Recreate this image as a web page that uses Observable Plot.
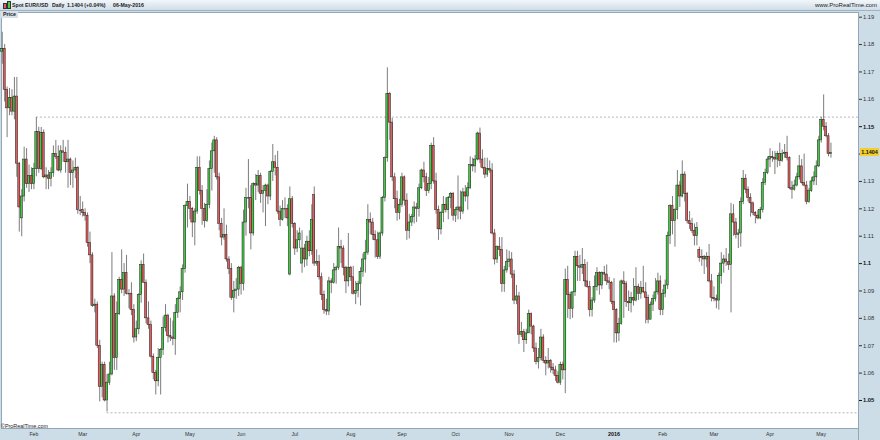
<!DOCTYPE html>
<html><head><meta charset="utf-8">
<script src="https://cdn.jsdelivr.net/npm/d3@7"></script>
<script src="https://cdn.jsdelivr.net/npm/@observablehq/plot@0.6"></script>
<style>
html,body{margin:0;padding:0;background:#cddde8;}
body{width:880px;height:440px;overflow:hidden;position:relative;font-family:"Liberation Sans",Arial,sans-serif;}
#hdr{position:absolute;left:0;top:0;width:880px;height:10px;background:linear-gradient(#f3f7fa,#cfdde8);border-bottom:1px solid #9fb3c2;font-size:5.2px;font-weight:bold;color:#1a1a1a;line-height:10px;}
#hdr .t{position:absolute;top:0;white-space:nowrap;}
#hdr .r{position:absolute;right:3px;top:0;font-weight:normal;font-size:6px;}
#icon{position:absolute;left:3px;top:2px;width:8px;height:7px;}
#icon span{position:absolute;bottom:0;width:2px;border:0.5px solid #333;}
#chart{position:absolute;left:0;top:11px;}
#price{position:absolute;left:1px;top:11px;padding:0 2px;height:7px;line-height:7px;font-size:5.3px;font-weight:bold;background:#d6e1ea;color:#222;}
#copy{position:absolute;left:1px;top:423px;font-size:5.4px;color:#222;}
#last{position:absolute;left:860px;width:19px;height:8px;line-height:8px;background:#f2cf2e;font-size:5.4px;font-weight:bold;color:#111;text-align:center;}
#sep{position:absolute;left:858px;top:428px;width:1px;height:12px;background:#93a7b6;}
</style></head>
<body>
<div id="hdr"><div id="icon"><span style="left:0;height:4px;background:#e35d5d"></span><span style="left:4px;height:6px;background:#44cc44"></span></div><span class="t" style="left:12px">Spot EUR/USD</span><span class="t" style="left:52px">Daily</span><span class="t" style="left:67px">1.1404 (+0.04%)</span><span class="t" style="left:113px">06-May-2016</span><span class="r">www.ProRealTime.com</span></div>
<div id="chart"></div>
<div id="price">Price</div>
<div id="copy">©ProRealTime.com</div>
<div id="sep"></div>
<div id="last">1.1404</div>
<script>
// ---- categories: trading days per month ----
const months = ["2015-01","2015-02","2015-03","2015-04","2015-05","2015-06","2015-07","2015-08","2015-09","2015-10","2015-11","2015-12","2016-01","2016-02","2016-03","2016-04","2016-05"];
const monthDays = [
 [14,15,16,19,20,21,22,23,26,27,28,29,30],
 [2,3,4,5,6,9,10,11,12,13,16,17,18,19,20,23,24,25,26,27],
 [2,3,4,5,6,9,10,11,12,13,16,17,18,19,20,23,24,25,26,27,30,31],
 [1,2,3,6,7,8,9,10,13,14,15,16,17,20,21,22,23,24,27,28,29,30],
 [1,4,5,6,7,8,11,12,13,14,15,18,19,20,21,22,25,26,27,28,29],
 [1,2,3,4,5,8,9,10,11,12,15,16,17,18,19,22,23,24,25,26,29,30],
 [1,2,3,6,7,8,9,10,13,14,15,16,17,20,21,22,23,24,27,28,29,30,31],
 [3,4,5,6,7,10,11,12,13,14,17,18,19,20,21,24,25,26,27,28,31],
 [1,2,3,4,7,8,9,10,11,14,15,16,17,18,21,22,23,24,25,28,29,30],
 [1,2,5,6,7,8,9,12,13,14,15,16,19,20,21,22,23,26,27,28,29,30],
 [2,3,4,5,6,9,10,11,12,13,16,17,18,19,20,23,24,25,26,27,30],
 [1,2,3,4,7,8,9,10,11,14,15,16,17,18,21,22,23,24,28,29,30,31],
 [4,5,6,7,8,11,12,13,14,15,18,19,20,21,22,25,26,27,28,29],
 [1,2,3,4,5,8,9,10,11,12,15,16,17,18,19,22,23,24,25,26,29],
 [1,2,3,4,7,8,9,10,11,14,15,16,17,18,21,22,23,24,25,28,29,30,31],
 [1,4,5,6,7,8,11,12,13,14,15,18,19,20,21,22,25,26,27,28,29],
 [2,3,4,5,6]
];
// ---- series values: [open, high, low, close] per day ----
const jan2015 = [[1.1774,1.1845,1.1728,1.1784],[1.1784,1.1800,1.1590,1.1635],[1.1635,1.1645,1.1460,1.1567],[1.1567,1.1640,1.1540,1.1605],[1.1605,1.1635,1.1540,1.1555],[1.1555,1.1680,1.1525,1.1610],[1.1610,1.1680,1.1315,1.1365],[1.1365,1.1370,1.1115,1.1205],[1.1165,1.1270,1.1098,1.1245],[1.1245,1.1425,1.1225,1.1380],[1.1380,1.1420,1.1275,1.1290],[1.1290,1.1360,1.1260,1.1320],[1.1320,1.1350,1.1270,1.1290]];
const feb2015 = [[1.1290,1.1366,1.1270,1.1345],[1.1345,1.1534,1.1317,1.1480],[1.1480,1.1498,1.1330,1.1345],[1.1345,1.1497,1.1340,1.1478],[1.1478,1.1488,1.1310,1.1315],[1.1315,1.1350,1.1270,1.1322],[1.1322,1.1340,1.1270,1.1310],[1.1310,1.1350,1.1280,1.1330],[1.1330,1.1430,1.1315,1.1400],[1.1400,1.1450,1.1380,1.1390],[1.1390,1.1430,1.1335,1.1340],[1.1340,1.1430,1.1330,1.1410],[1.1410,1.1450,1.1370,1.1405],[1.1405,1.1425,1.1330,1.1370],[1.1370,1.1450,1.1275,1.1380],[1.1380,1.1385,1.1285,1.1330],[1.1330,1.1375,1.1275,1.1340],[1.1340,1.1385,1.1310,1.1350],[1.1350,1.1355,1.1180,1.1195],[1.1195,1.1245,1.1175,1.1195]];
const mar2015 = [[1.1195,1.1225,1.1170,1.1185],[1.1185,1.1200,1.1155,1.1175],[1.1175,1.1185,1.1060,1.1075],[1.1075,1.1115,1.1000,1.1030],[1.1030,1.1040,1.0840,1.0845],[1.0845,1.0870,1.0820,1.0850],[1.0850,1.0860,1.0690,1.0700],[1.0700,1.0720,1.0495,1.0550],[1.0550,1.0640,1.0510,1.0630],[1.0630,1.0640,1.0495,1.0500],[1.0500,1.0595,1.0458,1.0565],[1.0565,1.0640,1.0555,1.0595],[1.0595,1.1040,1.0590,1.0880],[1.0880,1.0890,1.0610,1.0655],[1.0655,1.0860,1.0610,1.0815],[1.0815,1.0950,1.0810,1.0940],[1.0940,1.1050,1.0890,1.0905],[1.0905,1.1000,1.0880,1.0965],[1.0965,1.1030,1.0885,1.0890],[1.0890,1.0905,1.0835,1.0890],[1.0890,1.0930,1.0810,1.0830],[1.0830,1.0850,1.0710,1.0730]];
const apr2015 = [[1.0730,1.0790,1.0715,1.0760],[1.0760,1.0890,1.0740,1.0885],[1.0885,1.1010,1.0855,1.0995],[1.0995,1.1035,1.0935,1.0930],[1.0930,1.0940,1.0780,1.0800],[1.0800,1.0860,1.0760,1.0775],[1.0775,1.0790,1.0655,1.0660],[1.0660,1.0670,1.0575,1.0600],[1.0600,1.0610,1.0520,1.0570],[1.0570,1.0690,1.0550,1.0655],[1.0655,1.0690,1.0520,1.0685],[1.0685,1.0805,1.0665,1.0765],[1.0765,1.0850,1.0750,1.0810],[1.0810,1.0815,1.0710,1.0735],[1.0735,1.0800,1.0715,1.0730],[1.0730,1.0790,1.0700,1.0725],[1.0725,1.0850,1.0665,1.0820],[1.0820,1.0875,1.0800,1.0870],[1.0870,1.0915,1.0820,1.0895],[1.0895,1.0995,1.0865,1.0980],[1.0980,1.1215,1.0965,1.1210],[1.1210,1.1290,1.1130,1.1225]];
const may2015 = [[1.1225,1.1245,1.1160,1.1200],[1.1200,1.1205,1.1095,1.1150],[1.1150,1.1200,1.1065,1.1190],[1.1190,1.1390,1.1180,1.1350],[1.1350,1.1390,1.1250,1.1265],[1.1265,1.1285,1.1140,1.1200],[1.1200,1.1220,1.1130,1.1155],[1.1155,1.1270,1.1150,1.1215],[1.1215,1.1375,1.1200,1.1345],[1.1345,1.1440,1.1265,1.1410],[1.1410,1.1465,1.1330,1.1450],[1.1450,1.1460,1.1305,1.1315],[1.1315,1.1330,1.1120,1.1145],[1.1145,1.1165,1.1065,1.1095],[1.1095,1.1200,1.1085,1.1105],[1.1105,1.1140,1.1005,1.1015],[1.1015,1.1025,1.0960,1.0980],[1.0980,1.1000,1.0865,1.0875],[1.0875,1.0935,1.0820,1.0900],[1.0900,1.0945,1.0870,1.0905],[1.0905,1.0990,1.0880,1.0985]];
const jun2015 = [[1.0985,1.0990,1.0885,1.0925],[1.0925,1.1195,1.0900,1.1150],[1.1150,1.1275,1.1100,1.1240],[1.1240,1.1380,1.1200,1.1240],[1.1240,1.1285,1.1050,1.1110],[1.1110,1.1295,1.1100,1.1290],[1.1290,1.1325,1.1230,1.1285],[1.1285,1.1340,1.1260,1.1320],[1.1320,1.1330,1.1220,1.1255],[1.1255,1.1285,1.1185,1.1265],[1.1265,1.1290,1.1135,1.1285],[1.1285,1.1290,1.1215,1.1245],[1.1245,1.1340,1.1230,1.1335],[1.1335,1.1435,1.1300,1.1370],[1.1370,1.1395,1.1320,1.1350],[1.1350,1.1410,1.1180,1.1190],[1.1190,1.1210,1.1135,1.1160],[1.1160,1.1230,1.1155,1.1200],[1.1200,1.1240,1.1165,1.1200],[1.1200,1.1215,1.1135,1.1165],[1.0960,1.1280,1.0955,1.1235],[1.1235,1.1245,1.1130,1.1145]];
const jul2015 = [[1.1145,1.1150,1.1030,1.1055],[1.1055,1.1120,1.1040,1.1085],[1.1085,1.1130,1.1055,1.1110],[1.1000,1.1120,1.0965,1.1055],[1.1055,1.1070,1.0985,1.1015],[1.1015,1.1100,1.0990,1.1080],[1.1080,1.1120,1.1025,1.1045],[1.1045,1.1215,1.1030,1.1160],[1.1250,1.1280,1.0990,1.1000],[1.1000,1.1050,1.0990,1.1005],[1.1005,1.1030,1.0940,1.0950],[1.0950,1.0965,1.0865,1.0885],[1.0885,1.0900,1.0815,1.0830],[1.0830,1.0870,1.0810,1.0825],[1.0825,1.0950,1.0810,1.0935],[1.0935,1.0945,1.0890,1.0930],[1.0930,1.1000,1.0925,1.0975],[1.0975,1.0990,1.0925,1.0985],[1.0985,1.1130,1.0975,1.1060],[1.1060,1.1085,1.1000,1.1055],[1.1055,1.1065,1.0955,1.0985],[1.0985,1.0990,1.0890,1.0935],[1.0935,1.1110,1.0915,1.0985]];
const aug2015 = [[1.0985,1.0990,1.0935,1.0950],[1.0950,1.0990,1.0885,1.0890],[1.0890,1.0935,1.0850,1.0900],[1.0900,1.0935,1.0875,1.0925],[1.0925,1.0985,1.0845,1.0970],[1.0970,1.1035,1.0950,1.1015],[1.1015,1.1085,1.0965,1.1040],[1.1040,1.1215,1.1030,1.1160],[1.1160,1.1185,1.1105,1.1150],[1.1150,1.1165,1.1085,1.1105],[1.1105,1.1120,1.1020,1.1085],[1.1085,1.1115,1.1015,1.1025],[1.1025,1.1115,1.1015,1.1110],[1.1110,1.1245,1.1100,1.1240],[1.1240,1.1390,1.1225,1.1385],[1.1385,1.1715,1.1370,1.1620],[1.1620,1.1625,1.1450,1.1515],[1.1515,1.1530,1.1300,1.1315],[1.1315,1.1330,1.1200,1.1235],[1.1235,1.1265,1.1155,1.1185],[1.1185,1.1235,1.1160,1.1215]];
const sep2015 = [[1.1215,1.1330,1.1205,1.1315],[1.1315,1.1320,1.1210,1.1230],[1.1230,1.1255,1.1085,1.1120],[1.1120,1.1180,1.1090,1.1150],[1.1150,1.1180,1.1135,1.1170],[1.1170,1.1225,1.1145,1.1205],[1.1205,1.1220,1.1150,1.1200],[1.1200,1.1290,1.1170,1.1275],[1.1275,1.1345,1.1270,1.1340],[1.1340,1.1370,1.1295,1.1315],[1.1315,1.1330,1.1245,1.1265],[1.1265,1.1315,1.1255,1.1290],[1.1290,1.1440,1.1270,1.1430],[1.1430,1.1460,1.1290,1.1300],[1.1300,1.1330,1.1180,1.1195],[1.1195,1.1210,1.1085,1.1125],[1.1125,1.1190,1.1105,1.1185],[1.1185,1.1245,1.1150,1.1215],[1.1215,1.1240,1.1185,1.1195],[1.1195,1.1245,1.1160,1.1240],[1.1240,1.1260,1.1200,1.1255],[1.1255,1.1260,1.1155,1.1175]];
const oct2015 = [[1.1175,1.1205,1.1150,1.1195],[1.1195,1.1320,1.1160,1.1205],[1.1205,1.1265,1.1160,1.1190],[1.1190,1.1275,1.1180,1.1260],[1.1260,1.1285,1.1225,1.1245],[1.1245,1.1295,1.1195,1.1275],[1.1275,1.1390,1.1270,1.1360],[1.1360,1.1385,1.1335,1.1355],[1.1355,1.1395,1.1330,1.1380],[1.1380,1.1480,1.1375,1.1475],[1.1475,1.1495,1.1365,1.1380],[1.1380,1.1415,1.1345,1.1350],[1.1350,1.1385,1.1310,1.1325],[1.1325,1.1385,1.1315,1.1345],[1.1345,1.1375,1.1330,1.1340],[1.1340,1.1365,1.1105,1.1110],[1.1110,1.1125,1.0995,1.1015],[1.1015,1.1065,1.1000,1.1060],[1.1060,1.1095,1.1025,1.1050],[1.1050,1.1095,1.0895,1.0925],[1.0925,1.0990,1.0895,1.0975],[1.0975,1.1050,1.0965,1.1005]];
const nov2015 = [[1.1005,1.1045,1.0985,1.1015],[1.1015,1.1040,1.0945,1.0960],[1.0960,1.0975,1.0850,1.0865],[1.0865,1.0920,1.0850,1.0880],[1.0880,1.0895,1.0705,1.0740],[1.0740,1.0785,1.0730,1.0750],[1.0750,1.0760,1.0675,1.0720],[1.0720,1.0760,1.0705,1.0745],[1.0745,1.0830,1.0745,1.0815],[1.0815,1.0820,1.0740,1.0770],[1.0770,1.0775,1.0675,1.0690],[1.0690,1.0710,1.0630,1.0640],[1.0640,1.0690,1.0615,1.0655],[1.0655,1.0760,1.0645,1.0730],[1.0730,1.0740,1.0635,1.0645],[1.0645,1.0660,1.0590,1.0635],[1.0635,1.0690,1.0615,1.0645],[1.0645,1.0650,1.0600,1.0620],[1.0620,1.0635,1.0595,1.0610],[1.0610,1.0625,1.0570,1.0590],[1.0590,1.0605,1.0560,1.0565]];
const dec2015 = [[1.0565,1.0640,1.0555,1.0630],[1.0630,1.0640,1.0575,1.0610],[1.0610,1.0980,1.0525,1.0940],[1.0940,1.0990,1.0800,1.0885],[1.0885,1.0895,1.0795,1.0835],[1.0835,1.0895,1.0800,1.0895],[1.0895,1.1045,1.0880,1.1025],[1.1025,1.1045,1.0935,1.0990],[1.0990,1.1030,1.0935,1.0985],[1.0985,1.1055,1.0960,1.0995],[1.0995,1.1015,1.0915,1.0935],[1.0935,1.1005,1.0910,1.0915],[1.0915,1.0935,1.0805,1.0830],[1.0830,1.0875,1.0805,1.0865],[1.0865,1.0955,1.0855,1.0915],[1.0915,1.0985,1.0900,1.0965],[1.0965,1.0970,1.0885,1.0920],[1.0920,1.0970,1.0905,1.0965],[1.0965,1.0990,1.0935,1.0960],[1.0960,1.0995,1.0920,1.0935],[1.0935,1.0950,1.0905,1.0930],[1.0930,1.0935,1.0850,1.0860]];
const jan2016 = [[1.0860,1.0945,1.0710,1.0830],[1.0830,1.0835,1.0710,1.0745],[1.0745,1.0800,1.0715,1.0780],[1.0780,1.0940,1.0775,1.0935],[1.0935,1.0970,1.0800,1.0925],[1.0925,1.0935,1.0840,1.0860],[1.0860,1.0900,1.0825,1.0855],[1.0855,1.0895,1.0820,1.0875],[1.0875,1.0945,1.0845,1.0865],[1.0865,1.0985,1.0860,1.0915],[1.0915,1.0925,1.0865,1.0890],[1.0890,1.0935,1.0870,1.0910],[1.0910,1.0990,1.0890,1.0895],[1.0895,1.0930,1.0780,1.0875],[1.0875,1.0885,1.0780,1.0795],[1.0795,1.0860,1.0795,1.0850],[1.0850,1.0885,1.0825,1.0870],[1.0870,1.0945,1.0860,1.0895],[1.0895,1.0965,1.0885,1.0935],[1.0935,1.0955,1.0810,1.0830]];
const feb2016 = [[1.0830,1.0905,1.0810,1.0890],[1.0890,1.0940,1.0875,1.0920],[1.0920,1.1115,1.0905,1.1100],[1.1100,1.1215,1.1070,1.1210],[1.1210,1.1245,1.1105,1.1155],[1.1155,1.1200,1.1060,1.1195],[1.1195,1.1340,1.1160,1.1285],[1.1285,1.1300,1.1205,1.1245],[1.1245,1.1375,1.1240,1.1325],[1.1325,1.1335,1.1225,1.1255],[1.1255,1.1260,1.1145,1.1155],[1.1155,1.1190,1.1125,1.1145],[1.1145,1.1165,1.1110,1.1120],[1.1120,1.1145,1.1065,1.1100],[1.1100,1.1150,1.1065,1.1130],[1.1050,1.1060,1.1005,1.1020],[1.1020,1.1050,1.0990,1.1025],[1.1025,1.1030,1.0960,1.1015],[1.1015,1.1040,1.0985,1.1025],[1.1025,1.1070,1.0930,1.0935],[1.0935,1.0960,1.0860,1.0875]];
const mar2016 = [[1.0875,1.0915,1.0860,1.0870],[1.0870,1.0885,1.0835,1.0865],[1.0865,1.0965,1.0830,1.0955],[1.0955,1.1040,1.0925,1.1000],[1.1000,1.1030,1.0965,1.1015],[1.1015,1.1055,1.0990,1.1005],[1.1005,1.1035,1.0975,1.0995],[1.0995,1.1220,1.0820,1.1180],[1.1180,1.1215,1.1100,1.1150],[1.1150,1.1165,1.1090,1.1105],[1.1105,1.1125,1.1055,1.1110],[1.1110,1.1240,1.1060,1.1225],[1.1225,1.1340,1.1215,1.1310],[1.1310,1.1325,1.1255,1.1270],[1.1270,1.1280,1.1225,1.1240],[1.1240,1.1255,1.1170,1.1220],[1.1220,1.1225,1.1175,1.1185],[1.1185,1.1190,1.1145,1.1175],[1.1175,1.1195,1.1160,1.1165],[1.1165,1.1205,1.1160,1.1195],[1.1195,1.1310,1.1185,1.1295],[1.1295,1.1345,1.1285,1.1330],[1.1330,1.1390,1.1325,1.1380]];
const apr2016 = [[1.1380,1.1420,1.1350,1.1390],[1.1390,1.1410,1.1370,1.1385],[1.1385,1.1410,1.1325,1.1380],[1.1380,1.1410,1.1350,1.1400],[1.1400,1.1440,1.1355,1.1375],[1.1375,1.1415,1.1370,1.1400],[1.1400,1.1435,1.1385,1.1405],[1.1405,1.1465,1.1375,1.1385],[1.1385,1.1390,1.1270,1.1275],[1.1275,1.1300,1.1235,1.1270],[1.1270,1.1305,1.1265,1.1285],[1.1285,1.1330,1.1280,1.1315],[1.1315,1.1395,1.1305,1.1355],[1.1355,1.1380,1.1290,1.1295],[1.1295,1.1400,1.1280,1.1285],[1.1285,1.1300,1.1215,1.1225],[1.1225,1.1275,1.1220,1.1265],[1.1265,1.1315,1.1260,1.1300],[1.1300,1.1335,1.1285,1.1315],[1.1315,1.1375,1.1285,1.1355],[1.1355,1.1465,1.1350,1.1450]];
const may2016 = [[1.1450,1.1535,1.1440,1.1525],[1.1525,1.1616,1.1485,1.1500],[1.1500,1.1515,1.1460,1.1465],[1.1465,1.1475,1.1390,1.1400],[1.1400,1.1440,1.1385,1.1404]];
const monthCandles = [jan2015,feb2015,mar2015,apr2015,may2015,jun2015,jul2015,aug2015,sep2015,oct2015,nov2015,dec2015,jan2016,feb2016,mar2016,apr2016,may2016];

// ---- tick labels ----
const monthLabels = ["","Feb","Mar","Apr","May","Jun","Jul","Aug","Sep","Oct","Nov","Dec","2016","Feb","Mar","Apr","May"];
const boldMonthLabels = ["2016"];
const yTickValues = [1.05,1.06,1.07,1.08,1.09,1.10,1.11,1.12,1.13,1.14,1.15,1.16,1.17,1.18,1.19];
const yTickLabels = ["1.05","1.06","1.07","1.08","1.09","1.1","1.11","1.12","1.13","1.14","1.15","1.16","1.17","1.18","1.19"];
const yBoldLabels = ["1.05","1.1","1.15"];
// reference levels (dotted lines): start date and level
const refDates = ["2015-02-03","2015-03-16"];
const refLevels = [1.1535, 1.0455];

// ---- build table ----
const rows = [];
const monthStart = [];
months.forEach((m, k) => {
  monthStart.push(rows.length);
  monthDays[k].forEach((d, j) => {
    const [o, h, l, c] = monthCandles[k][j];
    rows.push({i: rows.length, date: m + "-" + String(d).padStart(2, "0"), open: o, high: h, low: l, close: c});
  });
});
const lastClose = rows[rows.length - 1].close;
const up = rows.filter(d => d.close > d.open);
const down = rows.filter(d => d.close < d.open);
const flat = rows.filter(d => d.close === d.open);
const xDomain = [-0.3, 351.3];
const refs = refDates.map((d, k) => ({i: rows.find(r => r.date === d).i, level: refLevels[k]}));
const monthTicks = monthStart.map((s, k) => ({i: s, label: monthLabels[k]})).filter(d => d.label);
const normalMonthTicks = monthTicks.filter(d => !boldMonthLabels.includes(d.label));
const boldMonthTicks = monthTicks.filter(d => boldMonthLabels.includes(d.label));
const labelOf = v => yTickLabels[yTickValues.findIndex(t => Math.abs(t - v) < 1e-9)];
// the tick hidden behind the last-price marker keeps its tick mark but no label
const hiddenTick = v => Math.abs(v - lastClose) < 0.003;
const yNormal = yTickValues.filter(v => !yBoldLabels.includes(labelOf(v)));
const yBold = yTickValues.filter(v => yBoldLabels.includes(labelOf(v)));
const half = 0.42;

const chart = Plot.plot({
  width: 880, height: 429,
  marginTop: 1, marginBottom: 12, marginLeft: 1, marginRight: 22,
  style: {background: "#cddde8", fontFamily: "Liberation Sans, Arial, sans-serif", overflow: "visible"},
  x: {domain: xDomain, axis: null, label: null},
  y: {domain: [1.03977, 1.19171], axis: null, label: null},
  marks: [
    Plot.frame({fill: "#ffffff", stroke: "#93a7b6"}),
    Plot.ruleY(refs, {y: "level", x1: "i", x2: () => xDomain[1], stroke: "#b3b3b3", strokeDasharray: "2,2", strokeWidth: 1}),
    Plot.ruleX(rows, {x: "i", y1: "low", y2: "high", stroke: "#7c7c7c", strokeWidth: 1}),
    Plot.rect(up, {x1: d => d.i - half, x2: d => d.i + half, y1: "open", y2: "close", fill: "#45c945", stroke: "#1b1b1b", strokeWidth: 0.5}),
    Plot.rect(down, {x1: d => d.i - half, x2: d => d.i + half, y1: "open", y2: "close", fill: "#e35d5d", stroke: "#1b1b1b", strokeWidth: 0.5}),
    Plot.ruleY(flat, {y: "close", x1: d => d.i - half, x2: d => d.i + half, stroke: "#1b1b1b", strokeWidth: 1}),
    Plot.axisY(yNormal, {anchor: "right", label: null, tickSize: 3, tickPadding: 1.5, tickFormat: v => hiddenTick(v) ? "" : labelOf(v), fontSize: 5.8, color: "#333"}),
    Plot.axisY(yBold, {anchor: "right", label: null, tickSize: 3, tickPadding: 1.5, tickFormat: labelOf, fontSize: 5.8, fontWeight: "bold", color: "#111"}),
    Plot.axisX(normalMonthTicks.map(d => d.i), {anchor: "bottom", label: null, tickSize: 0, tickPadding: 4, tickFormat: v => monthTicks.find(d => d.i === v).label, fontSize: 5.2, color: "#333"}),
    Plot.axisX(boldMonthTicks.map(d => d.i), {anchor: "bottom", label: null, tickSize: 0, tickPadding: 4, tickFormat: v => monthTicks.find(d => d.i === v).label, fontSize: 5.4, fontWeight: "bold", color: "#111"})
  ]
});
document.getElementById("chart").appendChild(chart);
const yLast = chart.scale("y").apply(lastClose);
const last = document.getElementById("last");
last.style.top = (11 + yLast - 4) + "px";
last.textContent = lastClose.toFixed(4);
</script>
</body></html>
